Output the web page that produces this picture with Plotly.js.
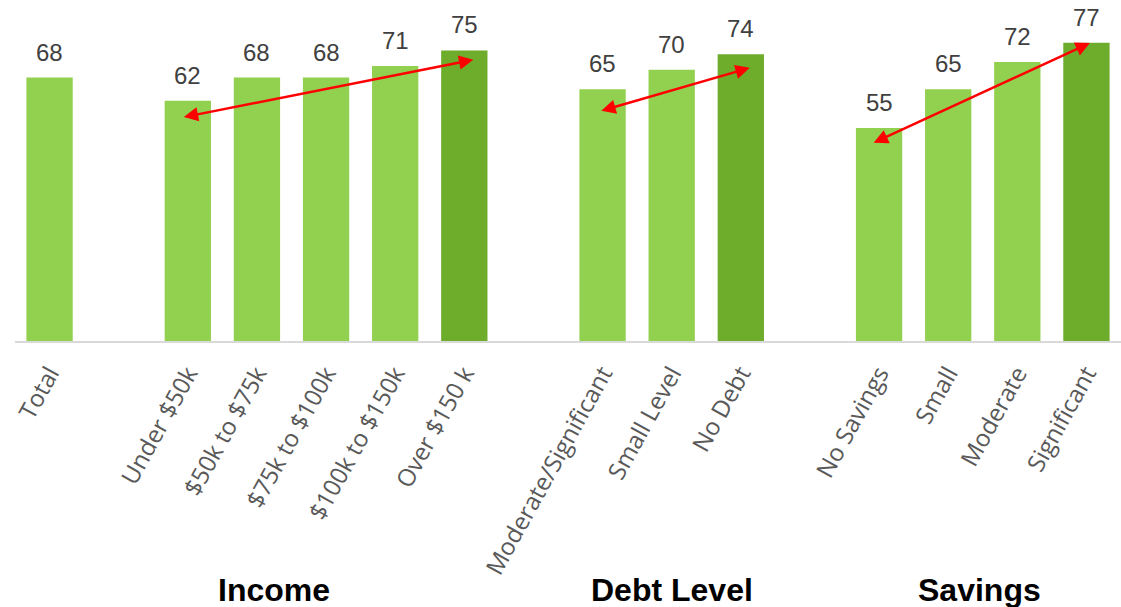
<!DOCTYPE html>
<html>
<head>
<meta charset="utf-8">
<script src="https://cdn.plot.ly/plotly-3.0.1.min.js"></script>
<style>html,body{margin:0;padding:0;background:#fff;}#chart{width:1121px;height:607px;}</style>
</head>
<body>
<div id="chart"></div>
<script>
// Categories (blank entries are spacer slots between groups)
const categories = ["Total", " ",
  "Under $50k", "$50k to $75k", "$75k to $100k", "$100k to $150k", "Over $150 k", "  ",
  "Moderate/Significant", "Small Level", "No Debt", "   ",
  "No Savings", "Small", "Moderate", "Significant"];
const values = [68, null, 62, 68, 68, 71, 75, null, 65, 70, 74, null, 55, 65, 72, 77];
const highlight = [false, false, false, false, false, false, true, false, false, false, true, false, false, false, false, true];
const groupLabels = ["Income", "Debt Level", "Savings"];
const groupLabelX = [3.25, 9, 13.45];
// Trend arrows: [x0, y0, x1, y1] in axis units
const arrows = [[1.92, 57.7, 6.13, 72.6], [7.96, 59.3, 10.13, 70.5], [11.9, 51.0, 15.05, 76.9]];

const light = "#92D050", dark = "#6EAC2C";
const trace = {
  type: "bar",
  x: categories,
  y: values,
  width: 0.67,
  marker: {color: highlight.map(h => h ? dark : light)},
  hoverinfo: "x+y"
};

const annotations = [];
// value labels
categories.forEach((c, i) => {
  if (values[i] === null) return;
  annotations.push({
    text: String(values[i]), x: c, y: values[i], xref: "x", yref: "y",
    yanchor: "bottom", yshift: 10, showarrow: false,
    font: {family: "Liberation Sans, Arial, sans-serif", size: 24, color: "#404040"}
  });
});
groupLabels.forEach((g, i) => annotations.push({
  text: "<b>" + g + "</b>", x: groupLabelX[i], xref: "x", y: 0, yref: "paper",
  yanchor: "middle", yshift: -249, showarrow: false,
  font: {family: "Liberation Sans, Arial, sans-serif", size: 32, color: "#000"}
}));
arrows.forEach(a => annotations.push({
  x: a[2], y: a[3], ax: a[0], ay: a[1], xref: "x", yref: "y", axref: "x", ayref: "y",
  text: "", showarrow: true, arrowside: "end+start", arrowhead: 2, startarrowhead: 2,
  arrowsize: 1.15, startarrowsize: 1.15, arrowwidth: 2.5, arrowcolor: "#FF0000"
}));

const layout = {
  width: 1121, height: 607,
  margin: {l: 15, r: 0, t: 0, b: 266},
  paper_bgcolor: "#fff", plot_bgcolor: "#fff",
  showlegend: false,
  xaxis: {
    type: "category", categoryorder: "array", categoryarray: categories,
    range: [-0.5, 15.5], showline: true, linecolor: "#D9D9D9", linewidth: 2,
    ticks: "", tickangle: -61, ticklabelstandoff: 7, showgrid: false, zeroline: false,
    tickfont: {family: "Open Sans, sans-serif", size: 24, color: "#595959"}
  },
  yaxis: {range: [0, 88], visible: false, showgrid: false, zeroline: false},
  annotations: annotations
};
Plotly.newPlot("chart", [trace], layout, {displayModeBar: false, staticPlot: true});
</script>
</body>
</html>
